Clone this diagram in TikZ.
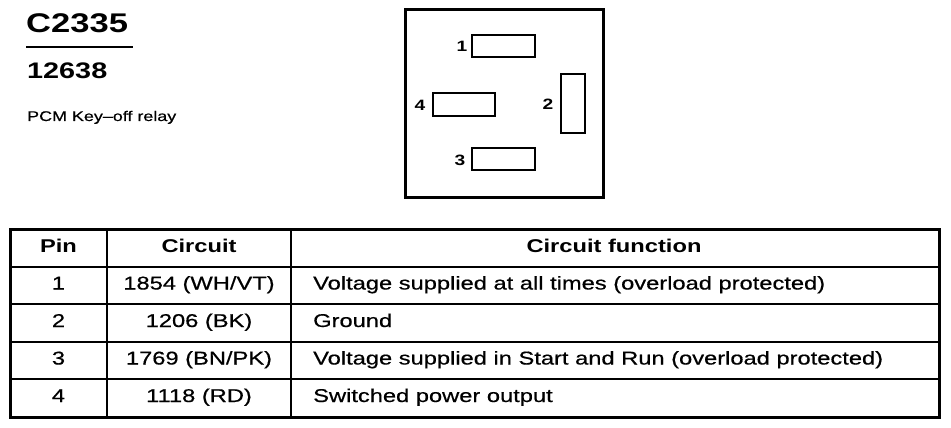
\documentclass[tikz,border=0pt]{standalone}
\usepackage{fontspec}
\newfontfamily\wf[FakeStretch=1.28,FakeBold=0.6]{Liberation Sans}
\newfontfamily\wfb[FakeStretch=1.28]{Liberation Sans}
\begin{document}
\begin{tikzpicture}[x=1pt,y=-1pt,
  txt/.style={inner sep=0pt,font=\wf\fontsize{18.5}{20}\selectfont},
  hdr/.style={inner sep=0pt,font=\wfb\bfseries\fontsize{18.5}{20}\selectfont},
  pinlbl/.style={inner sep=0pt,font=\wfb\bfseries\fontsize{15}{17}\selectfont},
  pinbox/.style={draw,line width=2.5pt},
  outer/.style={draw,line width=3pt},
  hline/.style={line width=2.2pt},
  vline/.style={line width=2.6pt}]
\useasboundingbox (0,0) rectangle (951,428);
% titles
\node[anchor=base west,inner sep=0pt,font=\wfb\bfseries\fontsize{27}{29}\selectfont] (title) at (26,33) {C2335};
\draw[line width=2.6pt] (26,47) -- (133,47);
\node[anchor=base west,inner sep=0pt,font=\wfb\bfseries\fontsize{22.5}{25}\selectfont] (num) at (27,79) {12638};
\node[anchor=base west,inner sep=0pt,font=\wf\fontsize{14}{16}\selectfont] (desc) at (27,121) {PCM Key–off relay};
% connector face
\draw[outer] (405,10) rectangle (603,197);
\draw[pinbox] (472,35) rectangle (535,57);
\draw[pinbox] (433,93) rectangle (495,116);
\draw[pinbox] (472,148) rectangle (535,170);
\draw[pinbox] (561,74) rectangle (585,133);
\node[pinlbl] (p1) at (462,46) {1};
\node[pinlbl] (p2) at (548,104) {2};
\node[pinlbl] (p3) at (460,160) {3};
\node[pinlbl] (p4) at (420,105) {4};
% table
\foreach \y in {267,304,342,379} \draw[hline] (10,\y) -- (939,\y);
\draw[vline] (107,229) -- (107,417);
\draw[vline] (291,229) -- (291,417);
\draw[outer] (10,229) rectangle (939,417);
% header
\node[hdr,anchor=base] (h1) at (58.5,252) {Pin};
\node[hdr,anchor=base] (h2) at (199,252) {Circuit};
\node[hdr,anchor=base] (h3) at (614,252) {Circuit function};
% rows
\node[txt,anchor=base] (a1) at (58.5,289.5) {1};
\node[txt,anchor=base] (b1) at (199,289.5) {1854 (WH/VT)};
\node[txt,anchor=base west] (c1) at (313,289.5) {Voltage supplied at all times (overload protected)};
\node[txt,anchor=base] (a2) at (58.5,327) {2};
\node[txt,anchor=base] (b2) at (199,327) {1206 (BK)};
\node[txt,anchor=base west] (c2) at (313,327) {Ground};
\node[txt,anchor=base] (a3) at (58.5,364.5) {3};
\node[txt,anchor=base] (b3) at (199,364.5) {1769 (BN/PK)};
\node[txt,anchor=base west] (c3) at (313,364.5) {Voltage supplied in Start and Run (overload protected)};
\node[txt,anchor=base] (a4) at (58.5,402) {4};
\node[txt,anchor=base] (b4) at (199,402) {1118 (RD)};
\node[txt,anchor=base west] (c4) at (313,402) {Switched power output};
\end{tikzpicture}
\end{document}
